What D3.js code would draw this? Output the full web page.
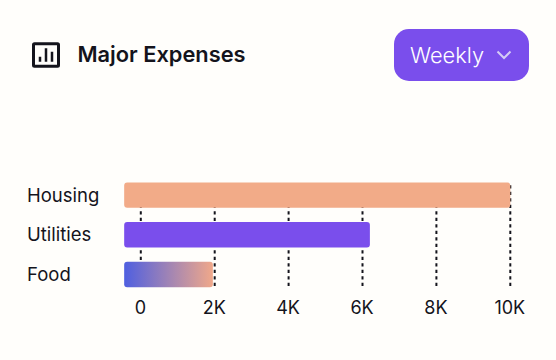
<!DOCTYPE html>
<html lang="en">
  <head>
    <meta charset="utf-8">
    <title>Major Expenses</title>
    <script src="https://cdn.jsdelivr.net/npm/d3@7/dist/d3.min.js"></script>
    <style>
    html, body {
      margin: 0;
      padding: 0;
      background: #fffefb;
    }
    svg {
      display: block;
      font-family: Inter, sans-serif;
    }
    </style>
  </head>
  <body>
    <div id="chart"></div>
    <script>

      var categories = ["Housing", "Utilities", "Food"];
      var values = [10000, 6200, 1950];
      var tickValues = [0, 2000, 4000, 6000, 8000, 10000];
      var tickLabels = ["0", "2K", "4K", "6K", "8K", "10K"];
      var barStart = -450; // bars begin a bit left of the zero line
      var title = "Major Expenses";
      var buttonLabel = "Weekly";

      var width = 556, height = 360;

      var svg = d3.select("#chart").append("svg")
          .attr("width", width)
          .attr("height", height);

      var defs = svg.append("defs");
      var grad = defs.append("linearGradient").attr("id", "food-grad");
      grad.append("stop").attr("offset", "0%").attr("stop-color", "#4f5fe0");
      grad.append("stop").attr("offset", "100%").attr("stop-color", "#f0a88a");

      var x = d3.scaleLinear()
          .domain([0, 10000])
          .range([140.8, 510.3]);

      var y = d3.scaleBand()
          .domain(categories)
          .range([175.3, 294.3])
          .paddingInner(0.36)
          .paddingOuter(0.18);

      // dashed grid + tick labels
      var xAxis = d3.axisBottom(x)
          .tickValues(tickValues)
          .tickFormat(function(d, i) { return tickLabels[i]; })
          .tickSize(-104)
          .tickPadding(15)
          .offset(0);

      var axisG = svg.append("g")
          .attr("transform", "translate(0,286)")
          .call(xAxis);
      axisG.select(".domain").remove();
      axisG.selectAll(".tick line")
          .attr("stroke", "#14141c")
          .attr("stroke-width", 2)
          .attr("stroke-dasharray", "3.3 3.2");
      axisG.selectAll(".tick text")
          .attr("fill", "#14141c")
          .attr("font-size", 18)
          .attr("font-family", "Inter, sans-serif")
          .attr("dx", -0.5);

      // bars
      var barColors = ["#f2ab88", "#7a4eec", "url(#food-grad)"];
      svg.selectAll(".bar")
          .data(values)
          .enter().append("rect")
            .attr("class", "bar")
            .attr("x", x(barStart))
            .attr("y", function(d, i) { return y(categories[i]); })
            .attr("width", function(d) { return x(d) - x(barStart); })
            .attr("height", y.bandwidth())
            .attr("rx", 3)
            .attr("fill", function(d, i) { return barColors[i]; });

      // category labels
      svg.selectAll(".cat")
          .data(categories)
          .enter().append("text")
            .attr("class", "cat")
            .attr("x", 27)
            .attr("y", function(d) { return y(d) + y.bandwidth() / 2; })
            .attr("dy", "0.35em")
            .attr("fill", "#14141c")
            .attr("font-size", 18.5)
            .text(function(d) { return d; });

      // header icon
      var icon = svg.append("g").attr("transform", "translate(32,43)");
      icon.append("rect")
          .attr("x", 1.5).attr("y", 0.8)
          .attr("width", 25).attr("height", 22.4)
          .attr("rx", 1)
          .attr("fill", "none")
          .attr("stroke", "#14141c")
          .attr("stroke-width", 3);
      icon.append("path")
          .attr("d", "M8 18.7v-5M14 18.7V5.3M20 18.7V8.7")
          .attr("fill", "none")
          .attr("stroke", "#14141c")
          .attr("stroke-width", 2.5);

      svg.append("text")
          .attr("x", 77.5)
          .attr("y", 62)
          .attr("fill", "#14141c")
          .attr("font-size", 21.8)
          .attr("font-weight", 600)
          .text(title);

      // dropdown button
      svg.append("rect")
          .attr("x", 394)
          .attr("y", 29)
          .attr("width", 135)
          .attr("height", 52)
          .attr("rx", 15)
          .attr("fill", "#7a4eec");
      svg.append("text")
          .attr("x", 410)
          .attr("y", 63)
          .attr("fill", "#ffffff")
          .attr("font-size", 21.8)
          .attr("font-weight", 300)
          .text(buttonLabel);
      svg.append("path")
          .attr("d", "M497.5 51.5l6.5 6.5 6.5-6.5")
          .attr("fill", "none")
          .attr("stroke", "#d5cdf5")
          .attr("stroke-width", 2);

    </script>
  </body>
</html>
